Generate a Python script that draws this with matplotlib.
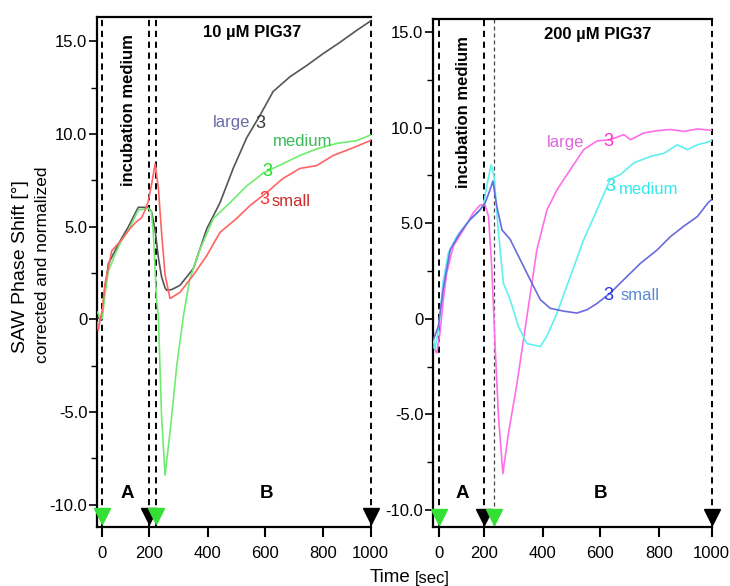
import numpy as np
import matplotlib
matplotlib.use("Agg")
import matplotlib.pyplot as plt

plt.rcParams["font.family"] = ["Liberation Sans", "DejaVu Sans"]

# ---------------- data ----------------
# 10 µM PIG37
t10_large = [-17, -3, 11, 26, 54, 83, 111, 153, 196, 208, 220, 231, 242, 254, 260, 278, 305, 351,
             397, 443, 489, 536, 582, 628, 686, 743, 800, 870, 941, 999]
v10_large = [0.1, -0.05, 1.6, 3.0, 3.7, 4.4, 5.0, 6.05, 6.05, 5.8, 4.8, 3.35, 2.3, 1.7, 1.57, 1.62,
             1.84, 2.75, 4.9, 6.3, 8.15, 9.8, 11.0, 12.3, 13.1, 13.7, 14.35, 14.95, 15.6, 16.1]

t10_medium = [-20, -10, 0, 11, 26, 54, 83, 111, 153, 196, 207, 214, 225, 231, 242, 254, 271, 294,
              317, 339, 374, 420, 478, 536, 594, 661, 720, 777, 857, 941, 999]
v10_medium = [0.4, 0.05, 0.05, 1.3, 2.6, 3.5, 4.3, 4.8, 5.9, 6.0, 5.8, 4.6, 1.0, 0.2, -5.2, -8.4,
              -6.1, -2.5, 0.2, 2.2, 3.8, 5.45, 6.3, 7.2, 7.9, 8.4, 8.85, 9.2, 9.5, 9.65, 9.95]

t10_small = [-22, -17, -10, 0, 11, 26, 40, 54, 83, 111, 139, 168, 182, 196, 208, 220, 231, 242,
             254, 271, 305, 351, 397, 443, 501, 548, 606, 661, 720, 777, 842, 913, 999]
v10_small = [-0.15, -0.6, -0.05, 0.5, 1.9, 2.8, 3.7, 3.9, 4.3, 4.8, 5.2, 5.5, 5.9, 6.4, 7.3, 8.4,
             7.1, 4.7, 2.4, 1.13, 1.46, 2.4, 3.45, 4.7, 5.45, 6.15, 6.85, 7.6, 8.15, 8.3, 8.85, 9.2,
             9.65]

# 200 µM PIG37
t200_large = [-25, -10, 4, 19, 34, 63, 107, 151, 181, 202, 214, 225, 237, 248, 263, 282, 311, 345,
              379, 414, 449, 495, 542, 588, 634, 680, 703, 749, 794, 844, 895, 946, 1000]
v200_large = [-1.45, -1.8, -0.75, 1.0, 2.4, 3.8, 4.65, 5.55, 5.95, 5.95, 5.35, 2.7, -1.6, -5.1,
              -8.1, -6.0, -3.4, 0.1, 3.6, 5.7, 6.75, 7.8, 8.85, 9.3, 9.37, 9.63, 9.37, 9.72, 9.84,
              9.9, 9.8, 9.93, 9.86]

t200_medium = [-25, -18, -3, 19, 41, 78, 122, 166, 196, 210, 223, 233, 248, 265, 288, 316, 345,
               391, 414, 449, 495, 542, 588, 634, 669, 714, 772, 819, 870, 908, 946, 1000]
v200_medium = [-1.1, -1.6, -0.6, 2.0, 3.45, 4.3, 5.0, 5.5, 5.95, 7.1, 8.05, 7.45, 4.5, 1.85, 1.0,
               -0.4, -1.3, -1.45, -0.9, 0.3, 2.2, 4.15, 5.7, 7.3, 7.55, 8.15, 8.5, 8.65, 9.1, 8.85,
               9.1, 9.3]

t200_small = [-25, -3, 19, 49, 93, 137, 181, 202, 217, 229, 242, 260, 288, 322, 356, 391, 425,
              472, 518, 553, 588, 634, 680, 737, 794, 844, 895, 946, 985, 1000]
v200_small = [-1.1, -0.4, 1.6, 3.6, 4.5, 5.2, 5.7, 6.05, 6.65, 7.2, 5.9, 4.65, 4.15, 3.1, 2.05,
              1.0, 0.55, 0.4, 0.3, 0.47, 0.8, 1.35, 2.05, 2.9, 3.6, 4.3, 4.85, 5.35, 6.05, 6.25]

# injection events (sec)
events_black_10 = [200, 1000]
events_green_10 = [0, 223]
events_black_200 = [200, 1000]
events_green_200 = [0, 232]

x_ticks = [0, 200, 400, 600, 800, 1000]
x_ticklabels = ["0", "200", "400", "600", "800", "1000"]
y_ticks = [-10, -5, 0, 5, 10, 15]
y_ticklabels = ["-10.0", "-5.0", "0", "5.0", "10.0", "15.0"]
y_minor = [-7.5, -2.5, 2.5, 7.5, 12.5]

# ---------------- figure ----------------
W, H = 730, 586
fig = plt.figure(figsize=(W / 100, H / 100), dpi=100)


def fpos(x, y):
    return x / W, 1 - y / H


def piecewise_scale(u_knots):
    t_knots = np.array([-200, 0, 200, 400, 600, 800, 1000, 1200], float)
    u_knots = np.array(u_knots, float)

    def fwd(t):
        return np.interp(np.asarray(t, float), t_knots, u_knots)

    def inv(u):
        return np.interp(np.asarray(u, float), u_knots, t_knots)

    return fwd, inv


panels = [
    dict(rect=(97, 17, 370.7, 527), ylim=(-11.2, 16.32), xlim=(-22.5, 1000),
         knots=[-47, 0, 47, 105.4, 162.7, 221, 268.4, 315.8],
         series=[(t10_large, v10_large, "#555555"),
                 (t10_medium, v10_medium, "#6fec6f"),
                 (t10_small, v10_small, "#ff6464")],
         black=events_black_10, green=events_green_10, tri_y=-10.6,
         thin_second=False),
    dict(rect=(433, 19, 711.7, 527), ylim=(-10.89, 15.68), xlim=(-26.5, 1000),
         knots=[-45.3, 0, 45.3, 103.7, 161, 219.3, 272, 310],
         series=[(t200_large, v200_large, "#ff6ee8"),
                 (t200_medium, v200_medium, "#5ff0f0"),
                 (t200_small, v200_small, "#6a6ae0")],
         black=events_black_200, green=events_green_200, tri_y=-10.37,
         thin_second=True),
]

dash = (0, (3.2, 2.4))
for p in panels:
    x0, y0, x1, y1 = p["rect"]
    ax = fig.add_axes([x0 / W, 1 - y1 / H, (x1 - x0) / W, (y1 - y0) / H])
    fwd, inv = piecewise_scale(p["knots"])
    ax.set_xscale("function", functions=(fwd, inv))
    ax.set_xlim(*p["xlim"])
    ax.set_ylim(*p["ylim"])

    for t, v, c in p["series"]:
        ax.plot(t, v, color=c, lw=1.2, zorder=3)

    # event markers: dashed verticals
    for xe in p["black"]:
        ax.axvline(xe, color="black", lw=1.4, ls=dash, zorder=2, clip_on=False)
    g0, g1 = p["green"]
    ax.axvline(g0, color="black", lw=1.4, ls=dash, zorder=2)
    if p["thin_second"]:
        ax.axvline(g1, color="#444444", lw=0.9, ls=dash, zorder=2)
    else:
        ax.axvline(g1, color="black", lw=1.4, ls=dash, zorder=2)

    ax.plot(p["black"], [p["tri_y"]] * 2, ls="none", marker="v", ms=12,
            color="black", clip_on=False, zorder=5)
    ax.plot(p["green"], [p["tri_y"]] * 2, ls="none", marker="v", ms=12,
            color="#33e033", clip_on=False, zorder=6)

    for s in ("left", "bottom", "top"):
        ax.spines[s].set_linewidth(1.6)
        ax.spines[s].set_color("black")
    ax.spines["right"].set_visible(False)

    ax.set_xticks(x_ticks)
    ax.set_xticklabels(x_ticklabels)
    ax.set_yticks(y_ticks)
    ax.set_yticklabels(y_ticklabels)
    ax.set_yticks(y_minor, minor=True)
    ax.xaxis.set_minor_locator(matplotlib.ticker.NullLocator())
    ax.tick_params(axis="x", which="major", direction="out", length=7, width=1.5,
                   labelsize=12, pad=7, colors="black")
    ax.tick_params(axis="y", which="major", direction="out", length=6, width=1.2,
                   labelsize=12, pad=1, colors="black")
    ax.tick_params(axis="y", which="minor", direction="out", length=4, width=1.0)
    ax.patch.set_alpha(0)

# ---------------- annotations ----------------
bold = dict(fontweight="bold", color="black")
fig.text(*fpos(251.7, 32), "10 µM PIG37", ha="center", va="center", fontsize=12, **bold)
fig.text(*fpos(598, 35), "200 µM PIG37", ha="center", va="center", fontsize=12, **bold)
fig.text(*fpos(128.5, 110), "incubation medium", rotation=90, ha="center", va="center",
         fontsize=12, **bold)
fig.text(*fpos(463.5, 112), "incubation medium", rotation=90, ha="center", va="center",
         fontsize=12, **bold)
for x, y, s in [(127.5, 493.5, "A"), (266.7, 493.5, "B"), (462.5, 493, "A"), (600.5, 493, "B")]:
    fig.text(*fpos(x, y), s, ha="center", va="center", fontsize=13.5, **bold)

labels = [
    (231.5, 123, "large", "#6b6ba8"), (302.5, 141, "medium", "#3cb95a"),
    (291.5, 201.5, "small", "#cc2b2b"),
    (566, 142, "large", "#dd66dd"), (648.5, 190, "medium", "#33e8e8"),
    (640.5, 295, "small", "#5a8ad0"),
]
for x, y, s, c in labels:
    fig.text(*fpos(x, y), s, ha="center", va="center", fontsize=12, color=c)

marks = [
    (260, 123, "#3a3a3a"), (267, 172, "#22dd22"), (264.5, 200, "#ff3030"),
    (608.5, 141.5, "#ff33cc"), (610, 186.5, "#22e5e5"), (608.5, 295, "#2233ee"),
]
for x, y, c in marks:
    fig.text(*fpos(x, y), "3", ha="center", va="center", fontsize=13, color=c,
             fontstretch="condensed")

fig.text(*fpos(21, 267), "SAW Phase Shift [°]", rotation=90, ha="center", va="center",
         fontsize=14, color="black")
fig.text(*fpos(43, 265), "corrected and normalized", rotation=90, ha="center", va="center",
         fontsize=12.5, color="black")
fig.text(*fpos(370, 578), "Time", ha="left", va="center", fontsize=13.5, color="black")
fig.text(*fpos(415, 579), "[sec]", ha="left", va="center", fontsize=12, color="black")

fig.savefig("out.png", dpi=100)
